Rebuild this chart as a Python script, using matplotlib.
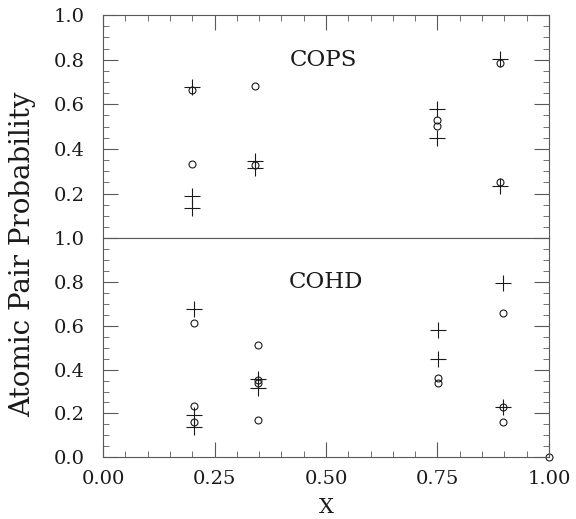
"""Atomic pair probability vs X, two stacked panels (COPS above, COHD below)."""
import matplotlib.pyplot as plt
from matplotlib.ticker import MultipleLocator, FixedLocator

plt.rcParams["font.family"] = "DejaVu Serif"

# --- data ---
# COPS panel
cops_plus_x = [0.20, 0.20, 0.20, 0.34, 0.34, 0.75, 0.75, 0.89, 0.89]
cops_plus_y = [0.677, 0.190, 0.135, 0.347, 0.315, 0.581, 0.449, 0.804, 0.232]
cops_circ_x = [0.20, 0.20, 0.34, 0.34, 0.75, 0.75, 0.89, 0.89]
cops_circ_y = [0.662, 0.334, 0.684, 0.329, 0.529, 0.505, 0.787, 0.250]

# COHD panel
cohd_plus_x = [0.205, 0.205, 0.205, 0.348, 0.348, 0.752, 0.752, 0.897, 0.897]
cohd_plus_y = [0.679, 0.193, 0.139, 0.356, 0.315, 0.580, 0.450, 0.797, 0.231]
cohd_circ_x = [0.205, 0.205, 0.205, 0.348, 0.348, 0.348, 0.348,
               0.752, 0.752, 0.897, 0.897, 0.897, 1.00]
cohd_circ_y = [0.613, 0.235, 0.162, 0.511, 0.352, 0.338, 0.170,
               0.361, 0.341, 0.659, 0.231, 0.162, 0.000]

x_ticks = [0.00, 0.25, 0.50, 0.75, 1.00]
x_tick_labels = ["0.00", "0.25", "0.50", "0.75", "1.00"]
top_y_ticks = [0.2, 0.4, 0.6, 0.8, 1.0]
bot_y_ticks = [0.0, 0.2, 0.4, 0.6, 0.8, 1.0]

INK = "#1a1a1a"
FRAME = "0.35"

fig = plt.figure(figsize=(5.76, 5.19), dpi=100)
left, width = 0.179, 0.774
ax_top = fig.add_axes([left, 0.541, width, 0.430])
ax_bot = fig.add_axes([left, 0.119, width, 0.422])


def style_axes(ax, yticks, xlabels_bottom, ticks_top, ticks_bottom):
    ax.set_xlim(0, 1)
    ax.set_ylim(0, 1)
    for sp in ax.spines.values():
        sp.set_color(FRAME)
        sp.set_linewidth(0.8)
    ax.xaxis.set_major_locator(FixedLocator(x_ticks))
    ax.xaxis.set_minor_locator(MultipleLocator(0.05))
    ax.yaxis.set_major_locator(FixedLocator(yticks))
    ax.yaxis.set_minor_locator(MultipleLocator(0.05))
    ax.tick_params(which="both", direction="in", colors=FRAME,
                   left=True, right=True, top=ticks_top, bottom=ticks_bottom,
                   labelcolor=INK, labelsize=14)
    ax.tick_params(which="major", length=11, width=0.8)
    ax.tick_params(which="minor", length=4, width=0.6)
    ax.tick_params(axis="y", which="major", pad=13.5)
    ax.tick_params(axis="x", which="major", pad=9.5)
    ax.set_yticklabels([f"{v:.1f}" for v in yticks])
    if xlabels_bottom:
        ax.set_xticklabels(x_tick_labels)
    else:
        ax.tick_params(labelbottom=False)


def draw(ax, px, py, cx, cy):
    ax.plot(px, py, linestyle="none", marker="+", markersize=11,
            markeredgewidth=0.8, color=INK, clip_on=False)
    ax.plot(cx, cy, linestyle="none", marker="o", markersize=5,
            markerfacecolor="none", markeredgewidth=0.8, color=INK,
            clip_on=False)


style_axes(ax_top, top_y_ticks, False, True, False)
style_axes(ax_bot, bot_y_ticks, True, False, True)

draw(ax_top, cops_plus_x, cops_plus_y, cops_circ_x, cops_circ_y)
draw(ax_bot, cohd_plus_x, cohd_plus_y, cohd_circ_x, cohd_circ_y)

ax_top.text(0.495, 0.80, "COPS", ha="center", va="center",
            fontsize=16.5, color=INK)
ax_bot.text(0.50, 0.80, "COHD", ha="center", va="center",
            fontsize=16.5, color=INK)

ax_bot.set_xlabel("X", fontsize=15, color=INK, labelpad=7)
fig.text(0.040, 0.510, "Atomic Pair Probability", rotation=90,
         ha="center", va="center", fontsize=20, color=INK)

fig.savefig("out.png", dpi=100)
